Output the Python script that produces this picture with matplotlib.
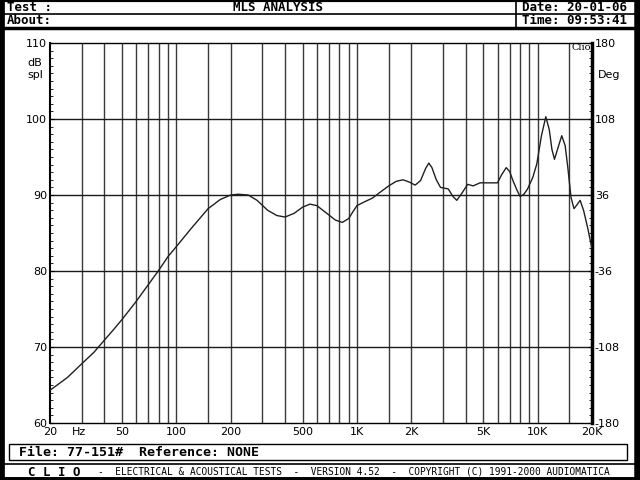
import matplotlib
matplotlib.use('Agg')
import matplotlib.pyplot as plt
from matplotlib.ticker import MultipleLocator, NullFormatter, NullLocator

plt.rcParams['axes.unicode_minus'] = False

# frequency response (Hz, dB spl)
freq = [20, 25, 30, 35, 40, 45, 50, 60, 70, 80, 90, 100, 120, 150, 175, 200,
        220, 250, 280, 320, 360, 400, 450, 500, 550, 600, 680, 760, 830, 900,
        950, 1000, 1100, 1220, 1350, 1500, 1650, 1800, 1950, 2100, 2250, 2400,
        2500, 2600, 2750, 2900, 3200, 3400, 3570, 3800, 4100, 4400, 4800, 6000,
        6300, 6700, 7000, 7300, 7700, 8000, 8400, 8800, 9400, 9900, 10500,
        11100, 11600, 12000, 12400, 13000, 13600, 14200, 14700, 15300, 15900,
        16500, 17200, 18000, 19000, 20000]
spl = [64.3, 66.0, 67.8, 69.3, 70.9, 72.3, 73.6, 76.0, 78.2, 80.1, 81.9, 83.2,
       85.5, 88.2, 89.4, 90.0, 90.1, 90.0, 89.3, 88.0, 87.3, 87.1, 87.6, 88.4,
       88.8, 88.6, 87.6, 86.7, 86.4, 86.9, 87.8, 88.6, 89.1, 89.6, 90.4, 91.2,
       91.8, 92.0, 91.7, 91.3, 91.9, 93.5, 94.2, 93.6, 92.0, 91.0, 90.8, 89.8,
       89.3, 90.2, 91.4, 91.2, 91.6, 91.6, 92.6, 93.6, 93.1, 91.9, 90.6, 89.8,
       90.1, 90.8, 92.3, 94.1, 97.8, 100.3, 98.6, 96.0, 94.7, 96.3, 97.8, 96.5,
       93.6, 89.7, 88.2, 88.7, 89.3, 87.9, 85.5, 82.9]

grid_freqs = [30, 40, 50, 60, 70, 80, 90, 100, 150, 200, 300, 400, 500, 600,
              700, 800, 900, 1000, 1500, 2000, 3000, 4000, 5000, 6000, 7000,
              8000, 9000, 10000, 15000]
x_ticks = [20, 29, 50, 100, 200, 500, 1000, 2000, 5000, 10000, 20000]
x_labels = ['20', 'Hz', '50', '100', '200', '500', '1K', '2K', '5K', '10K', '20K']
db_ticks = [60, 70, 80, 90, 100, 110]
deg_ticks = [-180, -108, -36, 36, 108, 180]

W, H = 640, 480
fig = plt.figure(figsize=(6.4, 4.8), dpi=100)

# background layer in pixel coordinates for the frame / header / footer
bg = fig.add_axes([0, 0, 1, 1])
bg.set_xlim(0, W)
bg.set_ylim(H, 0)
bg.axis('off')

k = 'black'
bg.plot([0, 0], [0, H], color=k, lw=7)
bg.plot([W, W], [0, H], color=k, lw=9)
bg.plot([0, W], [0, 0], color=k, lw=3)
bg.plot([0, W], [H, H], color=k, lw=5)
bg.plot([0, W], [14, 14], color=k, lw=1.2)
bg.plot([0, W], [27.5, 27.5], color=k, lw=2.5)
bg.plot([516, 516], [0, 27], color=k, lw=1.2)
bg.plot([0, W], [464, 464], color=k, lw=1.2)
bg.add_patch(plt.Rectangle((9, 444), 618, 16, fill=False, ec=k, lw=1))

mono = 'DejaVu Sans Mono'
bg.text(7, 7.5, 'Test :', family=mono, weight='bold', fontsize=9, va='center')
bg.text(7, 21, 'About:', family=mono, weight='bold', fontsize=9, va='center')
bg.text(278, 7.5, 'MLS ANALYSIS', family=mono, weight='bold', fontsize=9,
        va='center', ha='center')
bg.text(522, 7.5, 'Date: 20-01-06', family=mono, weight='bold', fontsize=9,
        va='center')
bg.text(522, 21, 'Time: 09:53:41', family=mono, weight='bold', fontsize=9,
        va='center')
bg.text(19, 452.5, 'File: 77-151#  Reference: NONE', family=mono,
        weight='bold', fontsize=9.5, va='center')
bg.text(28, 472, 'C L I O', family=mono, weight='bold', fontsize=9, va='center')
bg.text(98, 472, '-  ELECTRICAL & ACOUSTICAL TESTS  -  VERSION 4.52  -  '
        'COPYRIGHT (C) 1991-2000 AUDIOMATICA', family=mono, fontsize=6.85,
        va='center')
bg.text(27, 63, 'dB', fontsize=8, va='center')
bg.text(27, 75, 'spl', fontsize=8, va='center')
bg.text(598, 75, 'Deg', fontsize=8, va='center')
bg.text(571, 47, 'Clio', family='DejaVu Serif', fontsize=7, va='center')

# main plot
ax = fig.add_axes([50 / W, 57 / H, 542 / W, 380 / H])
ax.patch.set_alpha(0)
ax.set_xscale('log')
ax.set_xlim(20, 20000)
ax.set_ylim(60, 110)

for f in grid_freqs:
    ax.axvline(f, color='#3a3a3a', lw=1, zorder=1)
for d in db_ticks[1:-1]:
    ax.axhline(d, color='#1a1a1a', lw=1, zorder=1)

ax.plot(freq, spl, color='#202020', lw=1, zorder=3)

ax.xaxis.set_minor_locator(NullLocator())
ax.xaxis.set_minor_formatter(NullFormatter())
ax.set_xticks(x_ticks)
ax.set_xticklabels(x_labels)
ax.tick_params(axis='x', length=0, pad=3, labelsize=8)

ax.set_yticks(db_ticks)
ax.yaxis.set_minor_locator(MultipleLocator(1))
ax.tick_params(axis='y', which='both', direction='in', labelsize=8, pad=2)
ax.tick_params(axis='y', which='major', length=3)
ax.tick_params(axis='y', which='minor', length=2.5)

for side in ('top', 'bottom'):
    ax.spines[side].set_linewidth(1)
ax.spines['left'].set_linewidth(1.5)
ax.spines['right'].set_linewidth(2.5)

ax2 = ax.twinx()
ax2.set_ylim(-180, 180)
ax2.set_yticks(deg_ticks)
ax2.yaxis.set_minor_locator(MultipleLocator(7.2))
ax2.tick_params(axis='y', which='both', direction='in', labelsize=8, pad=2)
ax2.tick_params(axis='y', which='major', length=3)
ax2.tick_params(axis='y', which='minor', length=2.5)
for s in ax2.spines.values():
    s.set_visible(False)

fig.savefig('out.png', dpi=100)
